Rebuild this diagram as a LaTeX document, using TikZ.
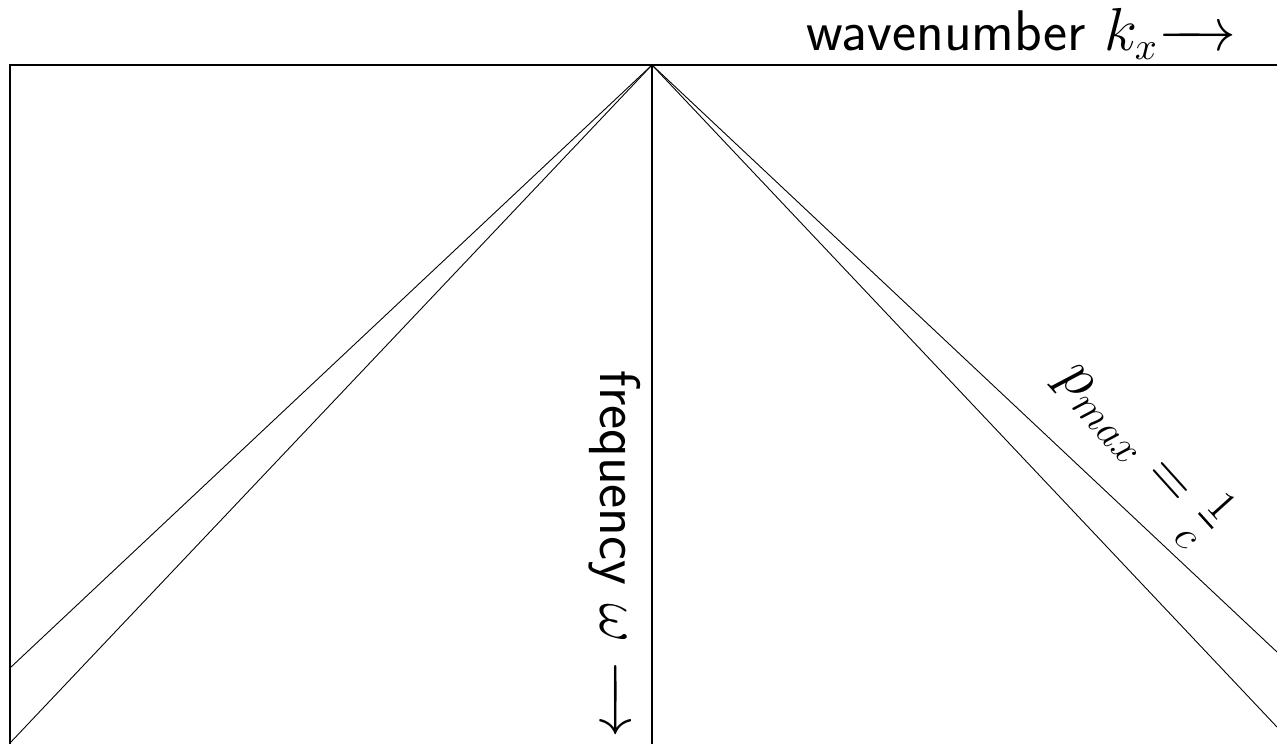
\documentclass[tikz,border=0pt]{standalone}
\usepackage{amsmath}
% arrow a bit shorter than \longrightarrow
\newcommand{\axisarrow}{{\relbar\mkern-9mu\rightarrow}}
\begin{document}
\begin{tikzpicture}[
  x=0.1mm, y=-0.1mm,
  frame/.style={line width=0.22mm, line cap=rect},
  ray/.style={line width=0.09mm},
  axislabel/.style={font=\fontsize{16.3}{20}\selectfont\sffamily, inner sep=0pt},
  slopelabel/.style={font=\fontsize{17.5}{21}\selectfont, inner sep=0pt}
]
\useasboundingbox (0,0) rectangle (1277,744);
% corners of the plotted region
\coordinate (apex) at (652,65);
\coordinate (topleft) at (10,65);
\coordinate (topright) at (1277,65);
\coordinate (botleft) at (10,744);
\coordinate (botmid) at (652,744);
% frame and zero wavenumber axis
\draw[frame] (topright) -- (topleft) -- (botleft);
\draw[frame] (apex) -- (botmid);
% dip limits on both sides
\draw[ray] (apex) -- (10,668);
\draw[ray] (apex) -- (10,743);
\draw[ray] (apex) -- (1277,652);
\draw[ray] (apex) -- (1277,727);
% labels
\node (kxlabel) [axislabel, anchor=base east] at (1237,50) {wavenumber $k_x\axisarrow$};
\node (wlabel) [axislabel, anchor=base west, rotate=-90] at (600,370) {frequency $\omega$ $\axisarrow$};
\node (plabel) [slopelabel, rotate=-48] at (1142,450) {$p_{max} = \frac{1}{c}$};
\end{tikzpicture}
\end{document}
